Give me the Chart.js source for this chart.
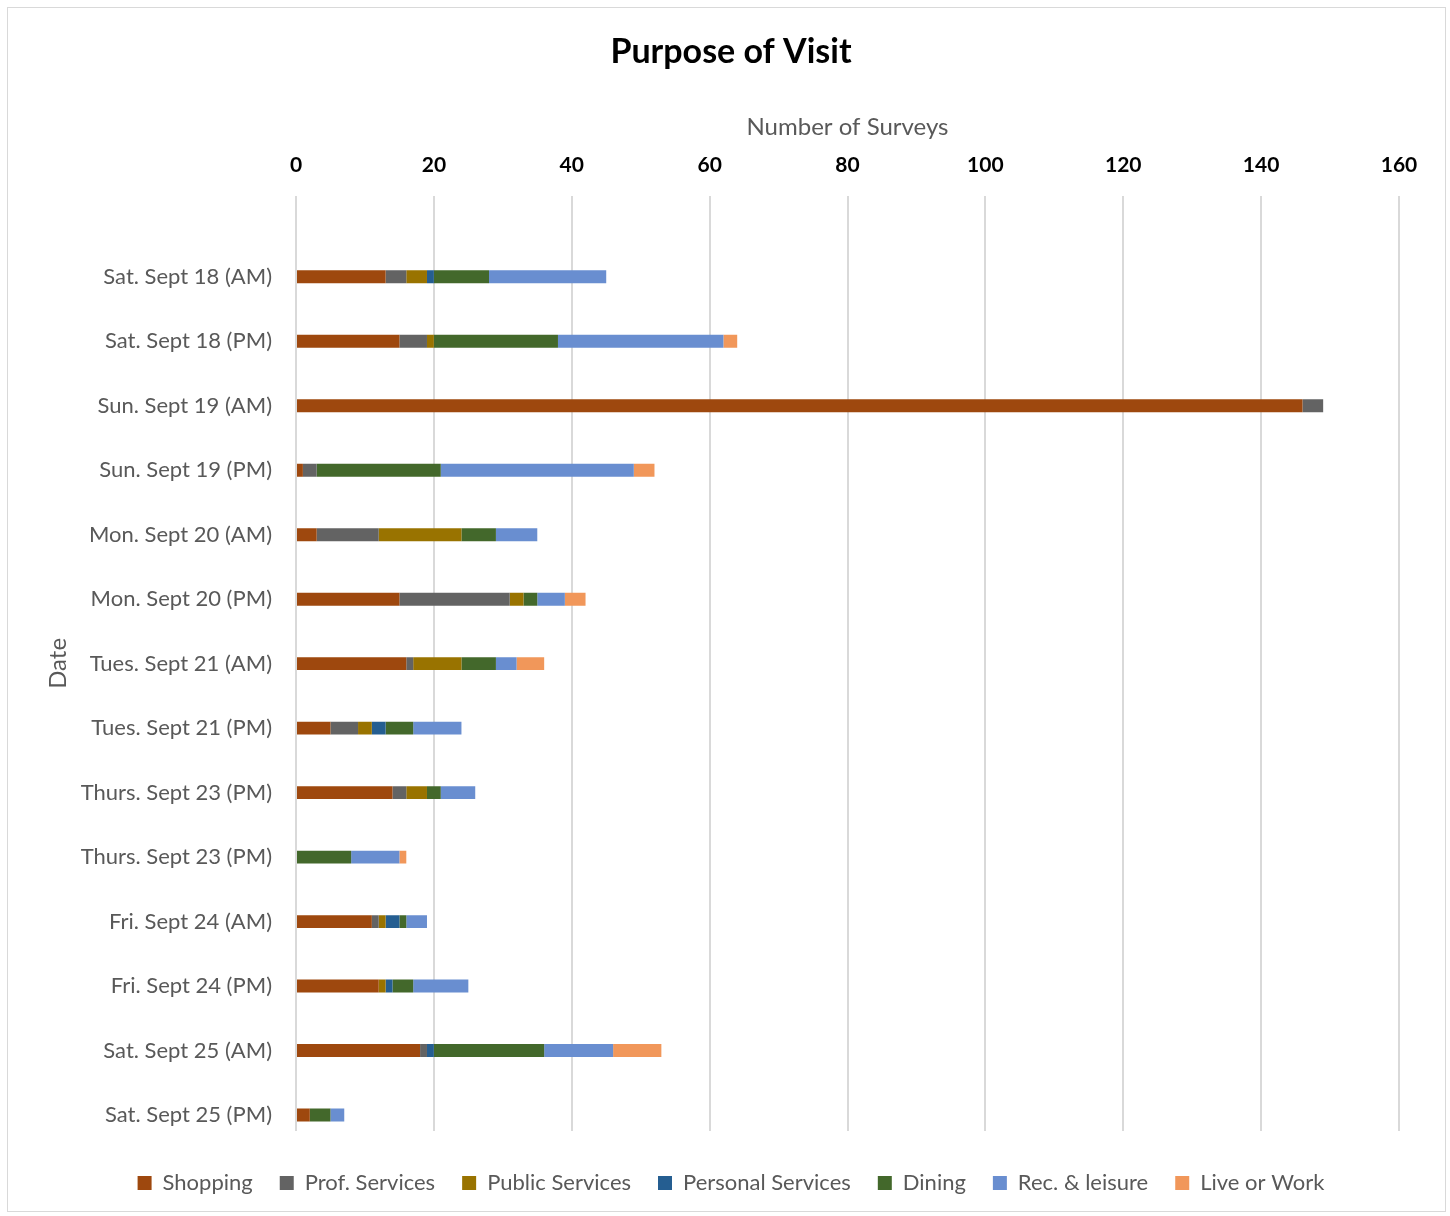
<!DOCTYPE html>
<html>
<head>
<meta charset="utf-8">
<script src="https://cdn.jsdelivr.net/npm/chart.js@4"></script>
<style>
body{margin:0;background:#fff;}
#wrap{position:absolute;left:7px;top:7px;width:1437px;height:1203px;border:1px solid #d9d9d9;}
</style>
</head>
<body>
<div id="wrap"><canvas id="chart" width="1437" height="1203"></canvas></div>
<script>
const dates = ['Sat. Sept 18 (AM)','Sat. Sept 18 (PM)','Sun. Sept 19 (AM)','Sun. Sept 19 (PM)','Mon. Sept 20 (AM)','Mon. Sept 20 (PM)','Tues. Sept 21 (AM)','Tues. Sept 21 (PM)','Thurs. Sept 23 (PM)','Thurs. Sept 23 (PM)','Fri. Sept 24 (AM)','Fri. Sept 24 (PM)','Sat. Sept 25 (AM)','Sat. Sept 25 (PM)'];

const shopping     = [13,15,146,1,3,15,16,5,14,0,11,12,18,2];
const profServices = [3,4,3,2,9,16,1,4,2,0,1,0,1,0];
const pubServices  = [3,1,0,0,12,2,7,2,3,0,1,1,0,0];
const persServices = [1,0,0,0,0,0,0,2,0,0,2,1,1,0];
const dining       = [8,18,0,18,5,2,5,4,2,8,1,3,16,3];
const recLeisure   = [17,24,0,28,6,4,3,7,5,7,3,8,10,2];
const liveWork     = [0,2,0,3,0,3,4,0,0,1,0,0,7,0];

const xTicks = [0,20,40,60,80,100,120,140,160];

// empty space above first / below last category (in category units), like the excel plot
const catGapTop = 1.256;
const catGapBottom = 0.248;

function ds(label, data, color){
    return {label:label, data:data, backgroundColor:color, borderWidth:0,
        barPercentage:0.2, categoryPercentage:1};
}

new Chart(document.getElementById('chart'),{
    type:'bar',
    data:{
        labels:dates,
        datasets:[
            ds('Shopping',shopping,'#9E480E'),
            ds('Prof. Services',profServices,'#636363'),
            ds('Public Services',pubServices,'#997300'),
            ds('Personal Services',persServices,'#255E91'),
            ds('Dining',dining,'#43682B'),
            ds('Rec. & leisure',recLeisure,'#698ED0'),
            ds('Live or Work',liveWork,'#F1975A')
        ]
    },
    options:{
        indexAxis:'y',
        responsive:false,
        animation:false,
        layout:{padding:{left:55,right:46,top:10,bottom:7}},
        plugins:{
            title:{display:true,text:'Purpose of Visit',color:'#000',
                font:{family:'Lato',size:34,weight:'bold'},padding:{top:14,bottom:36}},
            legend:{position:'bottom',
                title:{display:true,text:'',font:{size:10},padding:{top:0,bottom:2}},
                labels:{boxWidth:14,boxHeight:14,padding:27,color:'#595959',
                    font:{family:'Lato',size:22}}},
            tooltip:{enabled:false}
        },
        scales:{
            x:{
                position:'top',stacked:true,min:0,max:160,
                afterBuildTicks:(axis)=>{axis.ticks = xTicks.map(v=>({value:v}));},
                ticks:{color:'#000',font:{family:'Lato',size:21,weight:'bold'},padding:18},
                grid:{color:'#d9d9d9',lineWidth:2,drawTicks:false},
                border:{display:false},
                title:{display:true,text:'Number of Surveys',color:'#595959',
                    font:{family:'Lato',size:24},padding:{top:4,bottom:-7}}
            },
            y:{
                stacked:true,
                afterFit:(s)=>{s.width = 233;},
                afterUpdate:(s)=>{
                    s._startValue = -catGapTop;
                    s._valueRange = dates.length - 1 + catGapTop + catGapBottom;
                },
                ticks:{color:'#595959',font:{family:'Lato',size:22},padding:16},
                grid:{display:false},
                border:{display:false},
                title:{display:true,text:'Date',color:'#595959',
                    font:{family:'Lato',size:24},padding:{top:-19,bottom:4}}
            }
        }
    }
});
</script>
</body>
</html>
